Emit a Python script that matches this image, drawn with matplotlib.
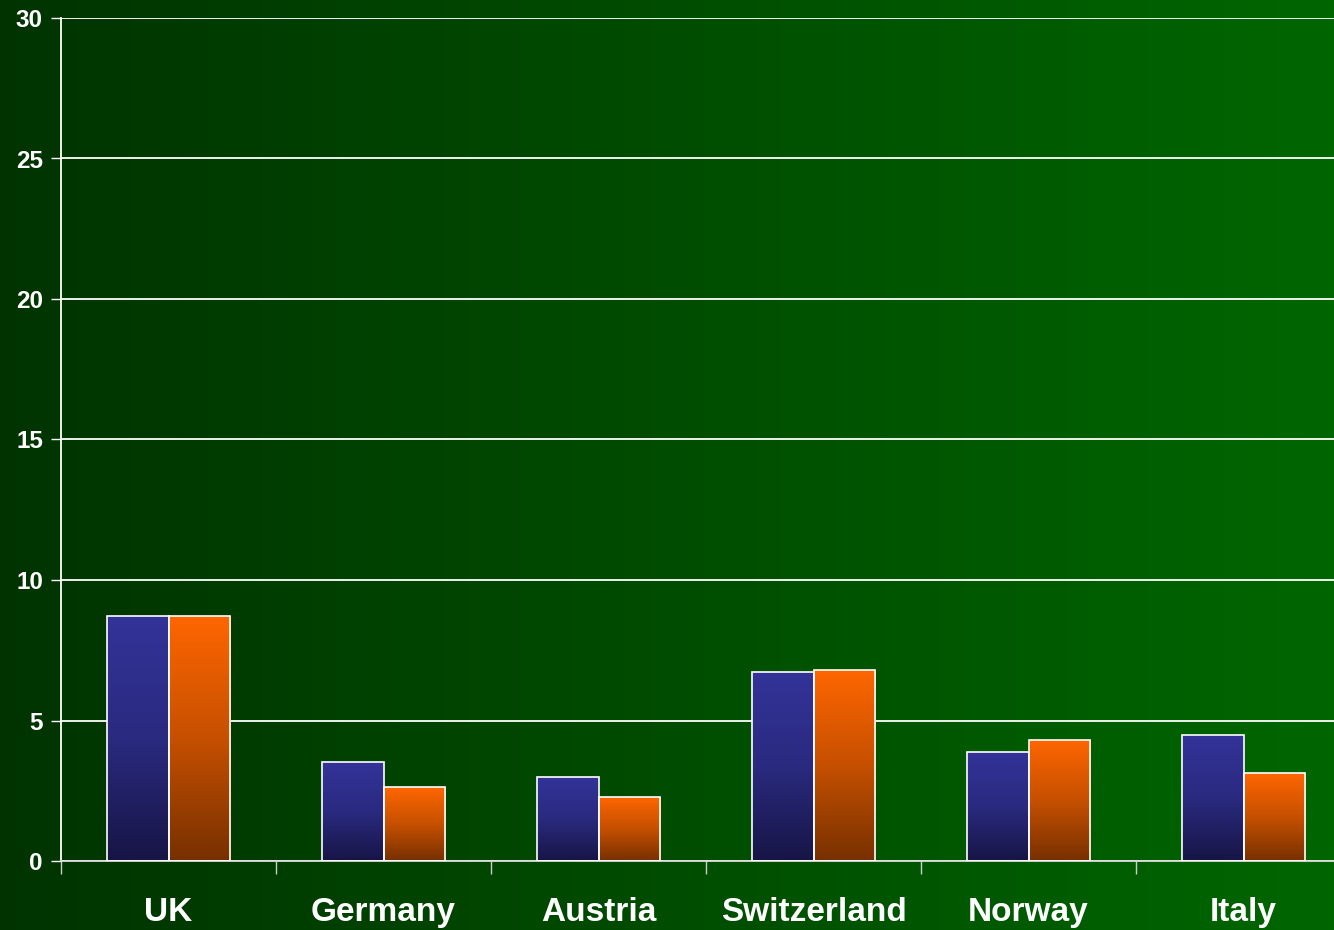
import numpy as np
import matplotlib
matplotlib.use("Agg")
import matplotlib.pyplot as plt
from matplotlib.colors import LinearSegmentedColormap

countries = ['UK', 'Germany', 'Austria', 'Switzerland', 'Norway', 'Italy']
series_a = [8.72, 3.52, 2.99, 6.73, 3.88, 4.48]
series_b = [8.72, 2.63, 2.28, 6.80, 4.31, 3.13]
yticks = [0, 5, 10, 15, 20, 25, 30]

plt.rcParams['font.family'] = ['Liberation Sans', 'DejaVu Sans']

fig = plt.figure(figsize=(13.34, 9.30), dpi=100)

# horizontal green gradient over the whole figure
bg = fig.add_axes([0, 0, 1, 1], zorder=0)
bg_cmap = LinearSegmentedColormap.from_list('bg', ['#003300', '#006600'])
bg.imshow(np.linspace(0, 1, 256).reshape(1, -1), cmap=bg_cmap, aspect='auto',
          extent=[0, 1, 0, 1])
bg.set_axis_off()

W, H = 1334, 930
left, top, bottom = 61, 18, 861
ax = fig.add_axes([left / W, 1 - bottom / H, 1 - left / W, (bottom - top) / H], zorder=1)
ax.set_facecolor('none')

x = np.arange(len(countries))
bw = 0.288
bars_a = ax.bar(x - bw / 2, series_a, bw, edgecolor='white', linewidth=1.2,
                facecolor='none', zorder=3)
bars_b = ax.bar(x + bw / 2, series_b, bw, edgecolor='white', linewidth=1.2,
                facecolor='none', zorder=3)

blue = LinearSegmentedColormap.from_list('blue', ['#171545', '#2a2a80', '#333399'])
orange = LinearSegmentedColormap.from_list('orange', ['#773000', '#c65000', '#ff6600'])
grad = np.linspace(0, 1, 256).reshape(-1, 1)
for bars, cmap in [(bars_a, blue), (bars_b, orange)]:
    for b in bars:
        bx, by = b.get_x(), b.get_y()
        im = ax.imshow(grad, cmap=cmap, aspect='auto', origin='lower',
                       extent=[bx, bx + b.get_width(), by, by + b.get_height()], zorder=2)
        im.set_clip_path(b)

ax.set_yticks(yticks)
ax.set_yticklabels([str(v) for v in yticks])
ax.yaxis.grid(True, color='white', linewidth=1.3, zorder=1)
ax.set_axisbelow(True)

ax.set_xticks(x)
ax.set_xticklabels(countries)
ax.set_xticks(np.arange(len(countries)) - 0.5, minor=True)
ax.tick_params(axis='x', which='major', length=0, pad=26, labelsize=24,
               labelcolor='white')
ax.tick_params(axis='x', which='minor', length=9, width=1, color='#cccccc')
ax.tick_params(axis='y', length=7, width=1, color='white', labelsize=17.5,
               labelcolor='white', pad=6)
for lab in ax.get_xticklabels() + ax.get_yticklabels():
    lab.set_fontweight('bold')

for s in ['top', 'right']:
    ax.spines[s].set_visible(False)
ax.spines['left'].set_color('white')
ax.spines['left'].set_linewidth(1.3)
ax.spines['bottom'].set_color('#dddddd')
ax.spines['bottom'].set_linewidth(1.3)

cat_px = 215
ax.set_xlim(-0.5, -0.5 + (W - left) / cat_px)
ax.set_ylim(0, 30)

fig.savefig('out.png', dpi=100)
